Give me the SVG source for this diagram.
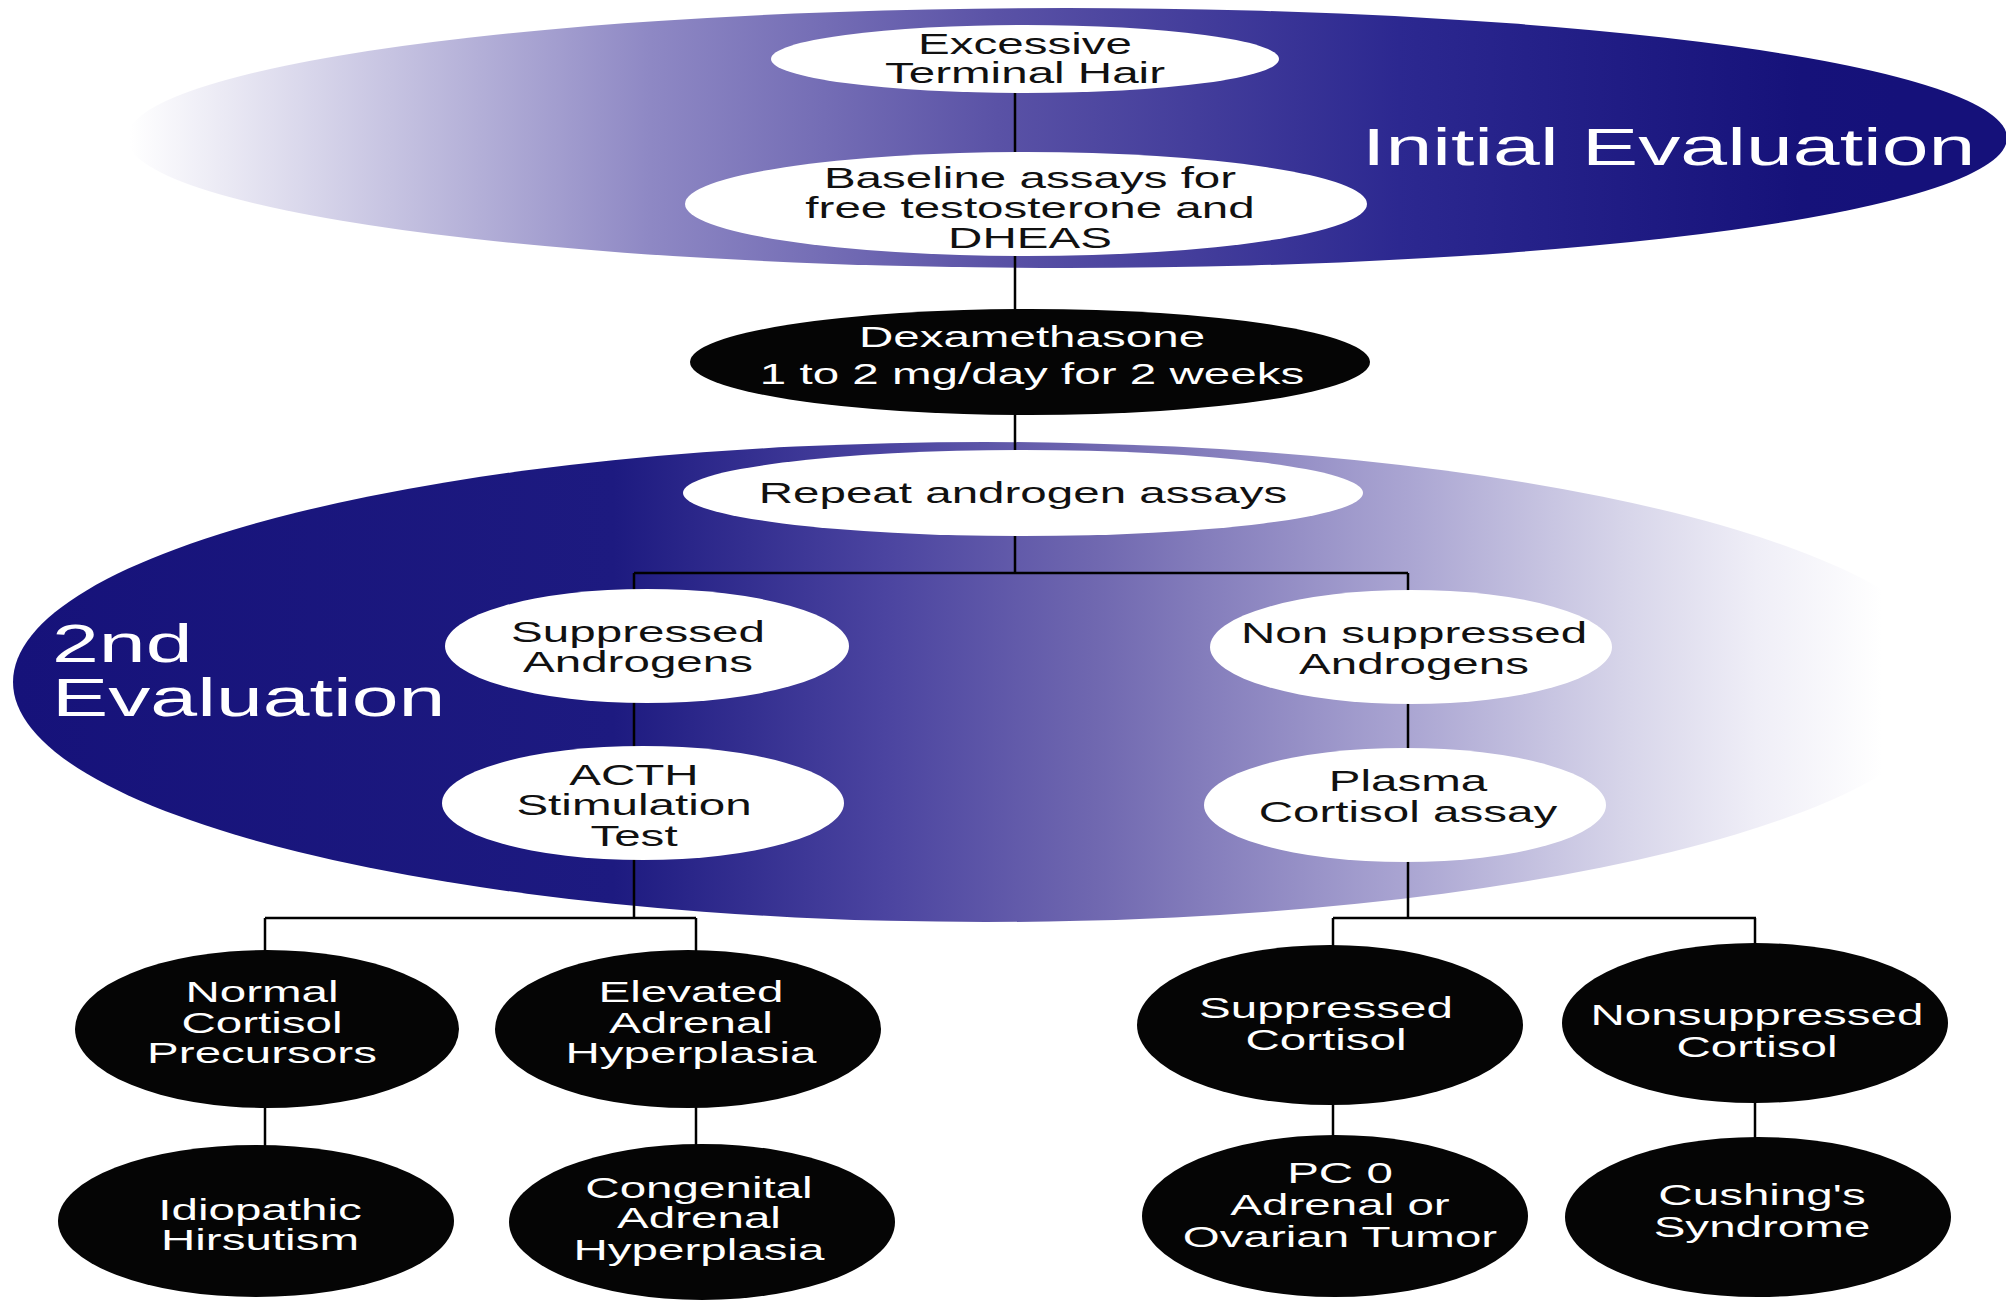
<svg xmlns="http://www.w3.org/2000/svg" width="2006" height="1300" viewBox="0 0 2006 1300">
<style>
.t{font-family:"Liberation Sans",Arial,sans-serif;font-size:29px;text-anchor:middle}
.dk{fill:#111}
.lt{fill:#fff}
.title{font-family:"Liberation Sans",Arial,sans-serif;fill:#fff}
.wn{fill:#fff}
.bn{fill:#050505}
.c{stroke:#000;stroke-width:2.5;fill:none}
</style>
<defs>
<linearGradient id="g1" gradientUnits="userSpaceOnUse" x1="130" y1="0" x2="1900" y2="0">
<stop offset="0" stop-color="#ffffff"/>
<stop offset="0.294" stop-color="#8e88c4"/>
<stop offset="0.49" stop-color="#5a52a6"/>
<stop offset="0.717" stop-color="#2c2890"/>
<stop offset="0.944" stop-color="#16127a"/>
<stop offset="1" stop-color="#15117a"/>
</linearGradient>
<linearGradient id="g2" gradientUnits="userSpaceOnUse" x1="13" y1="0" x2="1950" y2="0">
<stop offset="0" stop-color="#16127a"/>
<stop offset="0.31" stop-color="#1d1a80"/>
<stop offset="0.45" stop-color="#4b44a0"/>
<stop offset="0.56" stop-color="#7068b0"/>
<stop offset="0.72" stop-color="#aaa5d2"/>
<stop offset="0.83" stop-color="#d6d4e9"/>
<stop offset="0.90" stop-color="#efeef7"/>
<stop offset="0.965" stop-color="#ffffff"/>
<stop offset="1" stop-color="#ffffff"/>
</linearGradient>
</defs>
<rect width="2006" height="1300" fill="#fff"/>
<g id="band-initial">
<ellipse cx="1067" cy="138" rx="940" ry="130" fill="url(#g1)"/>
<text class="title" font-size="52" transform="translate(1362,165) scale(1.62,1)" x="0" y="0">Initial Evaluation</text>
</g>
<g id="band-second">
<ellipse cx="985" cy="682" rx="972" ry="240" fill="url(#g2)"/>
<text class="title" font-size="53" transform="translate(52,0) scale(1.59,1)"><tspan x="0" y="662">2nd</tspan><tspan x="0" y="716">Evaluation</tspan></text>
</g>
<g id="connectors">
<path class="c" d="M1015 93V573"/>
<path class="c" d="M634 573H1408"/>
<path class="c" d="M634 573V918"/>
<path class="c" d="M1408 573V918"/>
<path class="c" d="M265 918H696"/>
<path class="c" d="M265 918V1150"/>
<path class="c" d="M696 918V1150"/>
<path class="c" d="M1333 918H1756"/>
<path class="c" d="M1333 918V1140"/>
<path class="c" d="M1755 918V1140"/>
</g>
<g id="n-excessive"><ellipse class="wn" cx="1025" cy="59" rx="254" ry="34"/>
<text class="t dk" transform="translate(1025,0) scale(1.64,1)"><tspan x="0" y="54">Excessive</tspan><tspan x="0" y="83">Terminal Hair</tspan></text></g>
<g id="n-baseline"><ellipse class="wn" cx="1026" cy="204" rx="341" ry="52"/>
<text class="t dk" transform="translate(1030,0) scale(1.64,1)"><tspan x="0" y="188">Baseline assays for</tspan><tspan x="0" y="218">free testosterone and</tspan><tspan x="0" y="248">DHEAS</tspan></text></g>
<g id="n-dexa"><ellipse class="bn" cx="1030" cy="362" rx="340" ry="53"/>
<text class="t lt" transform="translate(1032,0) scale(1.64,1)"><tspan x="0" y="347">Dexamethasone</tspan><tspan x="0" y="384">1 to 2 mg/day for 2 weeks</tspan></text></g>
<g id="n-repeat"><ellipse class="wn" cx="1023" cy="493" rx="340" ry="43"/>
<text class="t dk" transform="translate(1023,0) scale(1.64,1)"><tspan x="0" y="503">Repeat androgen assays</tspan></text></g>
<g id="n-supp-andr"><ellipse class="wn" cx="647" cy="646" rx="202" ry="57"/>
<text class="t dk" transform="translate(638,0) scale(1.64,1)"><tspan x="0" y="642">Suppressed</tspan><tspan x="0" y="672">Androgens</tspan></text></g>
<g id="n-acth"><ellipse class="wn" cx="643" cy="803" rx="201" ry="57"/>
<text class="t dk" transform="translate(634,0) scale(1.64,1)"><tspan x="0" y="785">ACTH</tspan><tspan x="0" y="815">Stimulation</tspan><tspan x="0" y="846">Test</tspan></text></g>
<g id="n-nonsupp-andr"><ellipse class="wn" cx="1411" cy="647" rx="201" ry="57"/>
<text class="t dk" transform="translate(1414,0) scale(1.64,1)"><tspan x="0" y="643">Non suppressed</tspan><tspan x="0" y="674">Androgens</tspan></text></g>
<g id="n-plasma"><ellipse class="wn" cx="1405" cy="805" rx="201" ry="57"/>
<text class="t dk" transform="translate(1408,0) scale(1.64,1)"><tspan x="0" y="791">Plasma</tspan><tspan x="0" y="822">Cortisol assay</tspan></text></g>
<g id="n-normal"><ellipse class="bn" cx="267" cy="1029" rx="192" ry="79"/>
<text class="t lt" transform="translate(262,0) scale(1.64,1)"><tspan x="0" y="1002">Normal</tspan><tspan x="0" y="1033">Cortisol</tspan><tspan x="0" y="1063">Precursors</tspan></text></g>
<g id="n-elevated"><ellipse class="bn" cx="688" cy="1029" rx="193" ry="79"/>
<text class="t lt" transform="translate(691,0) scale(1.64,1)"><tspan x="0" y="1002">Elevated</tspan><tspan x="0" y="1033">Adrenal</tspan><tspan x="0" y="1063">Hyperplasia</tspan></text></g>
<g id="n-idiopathic"><ellipse class="bn" cx="256" cy="1221" rx="198" ry="76"/>
<text class="t lt" transform="translate(260,0) scale(1.64,1)"><tspan x="0" y="1220">Idiopathic</tspan><tspan x="0" y="1250">Hirsutism</tspan></text></g>
<g id="n-congenital"><ellipse class="bn" cx="702" cy="1222" rx="193" ry="78"/>
<text class="t lt" transform="translate(699,0) scale(1.64,1)"><tspan x="0" y="1198">Congenital</tspan><tspan x="0" y="1228">Adrenal</tspan><tspan x="0" y="1260">Hyperplasia</tspan></text></g>
<g id="n-supp-cort"><ellipse class="bn" cx="1330" cy="1025" rx="193" ry="80"/>
<text class="t lt" transform="translate(1326,0) scale(1.64,1)"><tspan x="0" y="1018">Suppressed</tspan><tspan x="0" y="1050">Cortisol</tspan></text></g>
<g id="n-nonsupp-cort"><ellipse class="bn" cx="1755" cy="1023" rx="193" ry="80"/>
<text class="t lt" transform="translate(1757,0) scale(1.64,1)"><tspan x="0" y="1025">Nonsuppressed</tspan><tspan x="0" y="1057">Cortisol</tspan></text></g>
<g id="n-pc0"><ellipse class="bn" cx="1335" cy="1216" rx="193" ry="81"/>
<text class="t lt" transform="translate(1340,0) scale(1.64,1)"><tspan x="0" y="1183">PC 0</tspan><tspan x="0" y="1215">Adrenal or</tspan><tspan x="0" y="1247">Ovarian Tumor</tspan></text></g>
<g id="n-cushing"><ellipse class="bn" cx="1758" cy="1217" rx="193" ry="80"/>
<text class="t lt" transform="translate(1762,0) scale(1.64,1)"><tspan x="0" y="1205">Cushing's</tspan><tspan x="0" y="1237">Syndrome</tspan></text></g>
</svg>
